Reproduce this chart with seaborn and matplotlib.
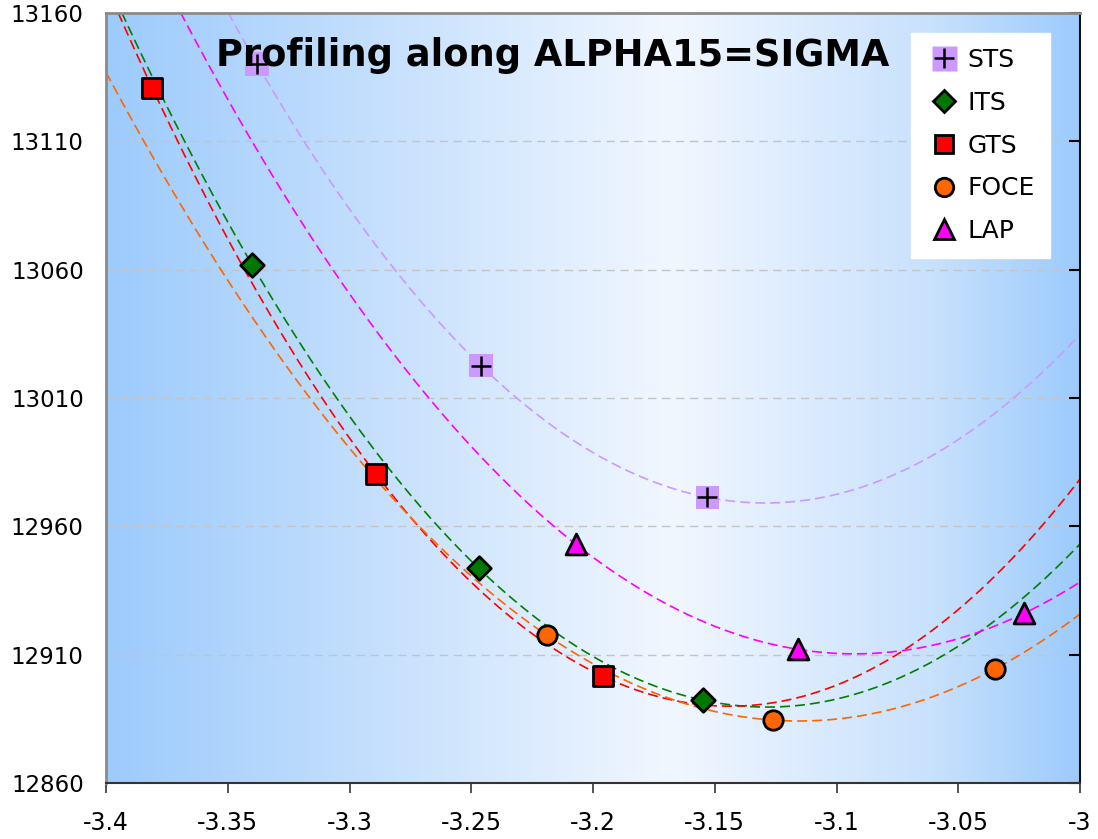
import numpy as np
import pandas as pd
import matplotlib
matplotlib.use("Agg")
import matplotlib.pyplot as plt
from matplotlib.colors import LinearSegmentedColormap
from matplotlib.lines import Line2D
from matplotlib.legend_handler import HandlerTuple
import seaborn as sns

# ---- data ----
series_names = ["STS", "ITS", "GTS", "FOCE", "LAP"]
sts_x = [-3.338, -3.246, -3.153]
sts_y = [13140.2, 13022.6, 12971.3]
its_x = [-3.340, -3.247, -3.155]
its_y = [13061.9, 12943.7, 12892.3]
gts_x = [-3.381, -3.289, -3.196]
gts_y = [13130.8, 12980.2, 12901.6]
foce_x = [-3.219, -3.126, -3.035]
foce_y = [12917.6, 12884.5, 12904.4]
lap_x = [-3.207, -3.116, -3.023]
lap_y = [12953.0, 12912.1, 12926.1]

x_ticks = [-3.4, -3.35, -3.3, -3.25, -3.2, -3.15, -3.1, -3.05, -3.0]
x_tick_labels = ["-3.4", "-3.35", "-3.3", "-3.25", "-3.2", "-3.15", "-3.1", "-3.05", "-3"]
y_ticks = [12860, 12910, 12960, 13010, 13060, 13110, 13160]
title = "Profiling along ALPHA15=SIGMA"

xs = {"STS": sts_x, "ITS": its_x, "GTS": gts_x, "FOCE": foce_x, "LAP": lap_x}
ys = {"STS": sts_y, "ITS": its_y, "GTS": gts_y, "FOCE": foce_y, "LAP": lap_y}

line_colors = {"STS": "#cc99ff", "ITS": "#008000", "GTS": "#ff0000",
               "FOCE": "#ff6600", "LAP": "#ff00ff"}
marker_face = {"STS": "#cc99ff", "ITS": "#007700", "GTS": "#ff0000",
               "FOCE": "#ff6600", "LAP": "#ff00ff"}
markers = {"STS": "s", "ITS": "D", "GTS": "s", "FOCE": "o", "LAP": "^"}
msizes = {"STS": 17, "ITS": 12, "GTS": 14, "FOCE": 14, "LAP": 15}

fig = plt.figure(figsize=(10.98, 8.39), dpi=100)
ax = fig.add_axes([106 / 1098, 1 - 783 / 839, (1080 - 106) / 1098, (783 - 13) / 839])

xmin, xmax, ymin, ymax = -3.4, -3.0, 12860, 13160

# gradient background
cmap = LinearSegmentedColormap.from_list(
    "bg", [(0.0, "#9dcbfc"), (0.27, "#c4dffd"), (0.58, "#f1f7ff"),
           (0.85, "#c8e1fd"), (1.0, "#9dcbfc")])
grad = np.linspace(0, 1, 512).reshape(1, -1)
ax.imshow(grad, extent=[xmin, xmax, ymin, ymax], aspect="auto", cmap=cmap,
          zorder=0, interpolation="bicubic")

# grid lines
for yv in y_ticks[1:-1]:
    ax.axhline(yv, color="#c4c4c4", lw=1.0, ls=(0, (6, 4)), zorder=1)

# fitted quadratic trend lines
xx = np.linspace(xmin, xmax, 400)
for name in series_names:
    coef = np.polyfit(xs[name], ys[name], 2)
    df_fit = pd.DataFrame({"x": xx, "y": np.polyval(coef, xx)})
    sns.lineplot(data=df_fit, x="x", y="y", ax=ax, color=line_colors[name],
                 lw=1.2, linestyle=(0, (6, 3)), zorder=2, legend=False)

# markers
for name in series_names:
    df = pd.DataFrame({"x": xs[name], "y": ys[name]})
    if name == "STS":
        sns.scatterplot(data=df, x="x", y="y", ax=ax, marker="s",
                        s=msizes[name] ** 2, color=marker_face[name],
                        edgecolor="none", linewidth=0, zorder=4, legend=False)
        sns.scatterplot(data=df, x="x", y="y", ax=ax, marker="+",
                        s=14 ** 2, color="black", linewidth=1.8, zorder=5,
                        legend=False)
    else:
        sns.scatterplot(data=df, x="x", y="y", ax=ax, marker=markers[name],
                        s=msizes[name] ** 2, color=marker_face[name],
                        edgecolor="black", linewidth=2, zorder=4, legend=False)

ax.set_xlim(xmin, xmax)
ax.set_ylim(ymin, ymax)
ax.set_xticks(x_ticks)
ax.set_xticklabels(x_tick_labels)
ax.set_yticks(y_ticks)
ax.set_xlabel("")
ax.set_ylabel("")

ax.tick_params(axis="x", direction="out", length=7, width=1.2, color="#333333",
               labelsize=17, pad=13)
ax.tick_params(axis="y", left=False, right=True, labelleft=True, labelright=False,
               direction="in", length=8, width=1.5, color="black",
               labelsize=16.5, pad=16)

for side in ["top", "left"]:
    ax.spines[side].set_color("#8a8a8a")
    ax.spines[side].set_linewidth(2)
ax.spines["right"].set_color("#111111")
ax.spines["right"].set_linewidth(1.5)
ax.spines["bottom"].set_color("#333333")
ax.spines["bottom"].set_linewidth(1.5)

ax.text((553 - 106) / 974, (783 - 55) / 770, title, transform=ax.transAxes,
        ha="center", va="center", fontsize=26.5, fontweight="bold", zorder=6)

# legend
handles = []
for name in series_names:
    if name == "STS":
        h1 = Line2D([], [], ls="none", marker="s", ms=18, mfc=marker_face[name],
                    mec="none")
        h2 = Line2D([], [], ls="none", marker="+", ms=15, mec="black", mew=1.8)
        handles.append((h1, h2))
    else:
        handles.append(Line2D([], [], ls="none", marker=markers[name],
                              ms=msizes[name] * 0.95, mfc=marker_face[name],
                              mec="black", mew=2))
leg = ax.legend(handles, series_names, loc="upper left",
                bbox_to_anchor=((911 - 106) / 974, (783 - 33) / 770),
                handler_map={tuple: HandlerTuple(ndivide=1)},
                fontsize=18, frameon=True, fancybox=False, framealpha=1,
                edgecolor="white", facecolor="white", labelspacing=0.75,
                handlelength=1.4, handletextpad=0.25, borderpad=0.6,
                borderaxespad=0)
leg.set_zorder(7)

fig.savefig("out.png", dpi=100)
